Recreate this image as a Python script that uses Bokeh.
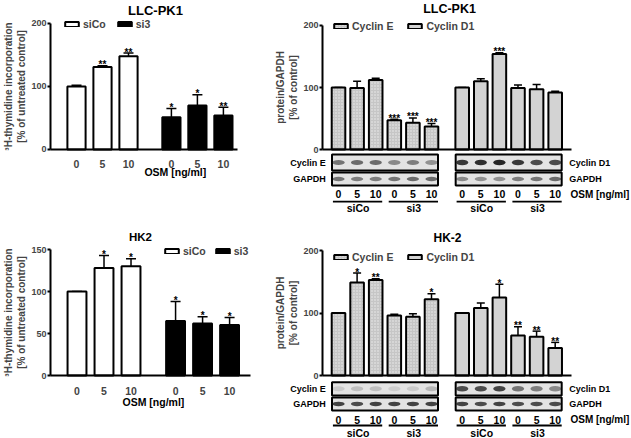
import numpy as np
from bokeh.plotting import figure
from bokeh.models import (ColumnDataSource, Range1d, FixedTicker, Whisker, TeeHead,
                          Legend, LegendItem, Label)
from bokeh.layouts import column, row
from bokeh.core.properties import value
from bokeh.embed import file_html
from bokeh.resources import INLINE

FONT = "Liberation Sans"

# ---------------- data ----------------
doses = ["0", "5", "10"]
groups = ["siCo", "si3"]
osm_label = "OSM [ng/ml]"

# 3H-thymidine incorporation, LLC-PK1
llc_thy_siCo = [100, 131, 148]
llc_thy_siCo_err = [2, 2, 5]
llc_thy_siCo_sig = ["", "**", "**"]
llc_thy_si3 = [51, 70, 54]
llc_thy_si3_err = [14, 17, 13]
llc_thy_si3_sig = ["*", "*", "**"]

# 3H-thymidine incorporation, HK2
hk2_thy_siCo = [100, 128, 130]
hk2_thy_siCo_err = [0, 15, 9]
hk2_thy_siCo_sig = ["", "*", "*"]
hk2_thy_si3 = [65, 62, 60]
hk2_thy_si3_err = [23, 8, 9]
hk2_thy_si3_sig = ["*", "*", "*"]

# protein/GAPDH, LLC-PK1 (siCo 0,5,10 then si3 0,5,10)
llc_cycE = [100, 99, 112, 47, 43, 37]
llc_cycE_err = [0, 11, 3, 2, 8, 5]
llc_cycE_sig = ["", "", "", "***", "***", "***"]
llc_cycD1 = [100, 110, 154, 99, 97, 92]
llc_cycD1_err = [0, 4, 2, 5, 8, 2]
llc_cycD1_sig = ["", "", "***", "", "", ""]

# protein/GAPDH, HK-2
hk_cycE = [100, 149, 153, 96, 94, 122]
hk_cycE_err = [0, 15, 2, 2, 5, 9]
hk_cycE_sig = ["", "*", "**", "", "", "*"]
hk_cycD1 = [100, 108, 125, 64, 62, 44]
hk_cycD1_err = [0, 8, 21, 14, 9, 9]
hk_cycD1_sig = ["", "", "*", "**", "**", "**"]

# western blot band darkness (0..1)
llc_band_cycE = [0.55, 0.6, 0.6, 0.45, 0.5, 0.4]
llc_band_gapdhE = [0.55, 0.5, 0.5, 0.55, 0.6, 0.6]
llc_band_cycD1 = [0.85, 0.9, 0.95, 0.85, 0.75, 0.75]
llc_band_gapdhD1 = [0.45, 0.4, 0.4, 0.5, 0.55, 0.6]
hk_band_cycE = [0.12, 0.18, 0.18, 0.1, 0.12, 0.22]
hk_band_gapdhE = [0.8, 0.75, 0.8, 0.8, 0.8, 0.8]
hk_band_cycD1 = [0.75, 0.75, 0.8, 0.55, 0.5, 0.45]
hk_band_gapdhD1 = [0.8, 0.75, 0.8, 0.75, 0.75, 0.75]


def txt(size="10px"):
    return dict(text_font=value(FONT), text_font_style="bold",
                text_font_size=size, text_color="black")


def base_fig(w, h, xr, yr):
    p = figure(width=w, height=h, x_range=Range1d(*xr), y_range=Range1d(*yr),
               output_backend="svg", toolbar_location=None,
               min_border_left=0, min_border_right=0, min_border_top=0,
               min_border_bottom=0)
    p.outline_line_color = None
    p.xgrid.visible = False
    p.ygrid.visible = False
    return p


def style_yaxis(p, ticks, label, xloc):
    ax = p.yaxis[0]
    ax.fixed_location = xloc
    ax.ticker = FixedTicker(ticks=ticks)
    ax.bounds = (0, ticks[-1])
    ax.minor_tick_line_color = None
    ax.major_tick_in = 0
    ax.major_tick_out = 3
    ax.major_tick_line_width = 2
    ax.axis_line_width = 2
    ax.major_label_standoff = 1
    ax.major_label_text_font = FONT
    ax.major_label_text_font_style = "bold"
    ax.major_label_text_font_size = "9px"
    ax.axis_label = label
    ax.axis_label_standoff = 1
    ax.axis_label_text_font = FONT
    ax.axis_label_text_font_style = "bold"
    ax.axis_label_text_font_size = "10px"


def style_xaxis(p, bounds, ticks=None, labels=None):
    ax = p.xaxis[0]
    ax.fixed_location = 0
    ax.bounds = bounds
    ax.axis_line_width = 2
    ax.major_tick_line_color = None
    ax.minor_tick_line_color = None
    if ticks is None:
        ax.major_label_text_color = None
    else:
        ax.ticker = FixedTicker(ticks=ticks)
        ax.major_label_overrides = {float(x): d for x, d in zip(ticks, labels)}
        ax.major_label_standoff = 5
        ax.major_label_text_font = FONT
        ax.major_label_text_font_style = "bold"
        ax.major_label_text_font_size = "10.5px"


def add_bars(p, xs, vals, errs, sigs, width, cap, **style):
    src = ColumnDataSource(dict(x=list(xs), top=vals,
                                upper=list(np.add(vals, errs)), sig=sigs))
    r = p.vbar(x="x", top="top", width=width, source=src, line_color="black",
               line_width=2, **style)
    p.add_layout(Whisker(source=src, base="x", lower="top", upper="upper",
                         line_width=1.5, line_color="black", lower_head=None,
                         upper_head=TeeHead(size=cap, line_width=1.5,
                                            line_color="black")))
    p.text(x="x", y="upper", text="sig", source=src, text_align="center",
           text_baseline="alphabetic", y_offset=-1, **txt("10px"))
    return r


def legend(p, items, loc, spacing):
    lg = Legend(items=[LegendItem(label=l, renderers=[r]) for l, r in items],
                orientation="horizontal", location=loc, padding=0, margin=0,
                spacing=spacing, glyph_width=17, glyph_height=6,
                label_standoff=3, label_height=10, border_line_color=None,
                background_fill_alpha=0, label_text_font=FONT,
                label_text_font_style="bold", label_text_font_size="10.5px")
    p.add_layout(lg)


def label(p, x, y, text, size="10px", align="center"):
    p.add_layout(Label(x=x, y=y, text=text, text_align=align,
                       text_baseline="middle", text_font=FONT,
                       text_font_style="bold", text_font_size=size,
                       text_color="black"))


GAP = 3.65


def thymidine_panel(title, co, co_err, co_sig, si, si_err, si_sig, yticks, L):
    p = base_fig(265, L["h"], L["xr"], L["yr"])
    x_co = np.arange(3.0)
    x_si = GAP + np.arange(3.0)
    r_co = add_bars(p, x_co, co, co_err, co_sig, 0.7, 10, fill_color="white")
    r_si = add_bars(p, x_si, si, si_err, si_sig, 0.7, 10, fill_color="black")
    style_yaxis(p, yticks, "\u00b3H-thymidine incorporation\n[% of untreated control]",
                L["axis"][0])
    style_xaxis(p, L["axis"], list(x_co) + list(x_si), doses * 2)
    label(p, L["osm"][0], L["osm"][1], osm_label, size="10.5px")
    label(p, L["title"][0], L["title"][1], title, size=L["tsize"])
    legend(p, [(groups[0], r_co), (groups[1], r_si)], L["leg"], L["leg_sp"])
    return p


D_OFF = 6.65
R_AXIS = (-0.86, 12.53)


def cyclin_panel(title, e, e_err, e_sig, d, d_err, d_sig, bands, L):
    p = base_fig(366, L["h"], (-3.925, 15.753), L["yr"])
    xE = np.arange(6.0)
    xD = D_OFF + np.arange(6.0)
    rE = add_bars(p, xE, e, e_err, e_sig, 0.73, 8, fill_color="#c6c6c6",
                  hatch_pattern="dot", hatch_color="#ececec", hatch_scale=3)
    rD = add_bars(p, xD, d, d_err, d_sig, 0.73, 8, fill_color="#d3d3d3")
    style_yaxis(p, [0, 100, 200], "protein/GAPDH\n[% of control]", R_AXIS[0])
    style_xaxis(p, R_AXIS)
    # blots
    (yA, hA), (yB, hB) = L["rows"]
    cx = [xE.mean(), xD.mean()]
    p.rect(x=cx * 2, y=[yA, yA, yB, yB], width=5.7,
           height=[hA, hA, hB, hB], fill_color="#e3e3e3", line_color="black",
           line_width=2)
    bE, gE, bD, gD = bands
    for xs, yy, dark, hh in ((xE, yA, bE, 5), (xE, yB, gE, 4.5),
                             (xD, yA, bD, 5.5), (xD, yB, gD, 4.5)):
        p.ellipse(x=list(xs), y=[yy] * 6, width=0.66, height=hh,
                  height_units="screen", fill_color="#1a1a1a",
                  fill_alpha=dark, line_color=None)
    # dose numbers, underlines, group labels
    allx = list(xE) + list(xD)
    p.text(x=allx, y=[L["num"]] * 12, text=doses * 4, text_align="center",
           text_baseline="middle", **txt("10.5px"))
    starts = [xE[0], xE[3], xD[0], xD[3]]
    p.segment(x0=[s - 0.3 for s in starts], y0=[L["ul"]] * 4,
              x1=[s + 2.35 for s in starts], y1=[L["ul"]] * 4,
              line_width=1.8, line_color="black")
    p.text(x=[s + 1.05 for s in starts], y=[L["grp"]] * 4, text=groups * 2,
           text_align="center", text_baseline="middle", **txt("10.5px"))
    p.text(x=[12.47], y=[L["num"]], text=[osm_label], text_align="left",
           text_baseline="middle", **txt("10px"))
    p.text(x=[12.4, 12.4], y=[yA, yB], text=["Cyclin D1", "GAPDH"],
           text_align="left", text_baseline="middle", **txt("9px"))
    label(p, -0.68, yA, "Cyclin E", size="9px", align="right")
    label(p, -0.68, yB, "GAPDH", size="9px", align="right")
    label(p, L["title"][0], L["title"][1], title, size=L["tsize"])
    legend(p, [("Cyclin E", rE), ("Cyclin D1", rD)], L["leg"], 13)
    return p


p1 = thymidine_panel("LLC-PK1", llc_thy_siCo, llc_thy_siCo_err, llc_thy_siCo_sig,
                     llc_thy_si3, llc_thy_si3_err, llc_thy_si3_sig, [0, 100, 200],
                     dict(h=214, xr=(-2.923, 7.269), yr=(-103.2, 236.5),
                          axis=(-1.0, 6.19), osm=(3.8, -36.5), title=(3.04, 221),
                          tsize="13px", leg=(63, 184), leg_sp=10))
p2 = cyclin_panel("LLC-PK1", llc_cycE, llc_cycE_err, llc_cycE_sig, llc_cycD1,
                  llc_cycD1_err, llc_cycD1_sig,
                  (llc_band_cycE, llc_band_gapdhE, llc_band_cycD1, llc_band_gapdhD1),
                  dict(h=214, yr=(-104.8, 240.3), rows=((-21, 26), (-47.5, 21)),
                       num=-72.5, ul=-84, grp=-95, title=(5.97, 226.6),
                       tsize="12.5px", leg=(67, 182)))
p3 = thymidine_panel("HK2", hk2_thy_siCo, hk2_thy_siCo_err, hk2_thy_siCo_sig,
                     hk2_thy_si3, hk2_thy_si3_err, hk2_thy_si3_sig, [0, 50, 100, 150],
                     dict(h=224, xr=(-2.833, 6.98), yr=(-75, 191.7),
                          axis=(-0.98, 6.43), osm=(2.83, -31), title=(2.35, 165.5),
                          tsize="11.5px", leg=(163, 181), leg_sp=8))
p4 = cyclin_panel("HK-2", hk_cycE, hk_cycE_err, hk_cycE_sig, hk_cycD1,
                  hk_cycD1_err, hk_cycD1_sig,
                  (hk_band_cycE, hk_band_gapdhE, hk_band_cycD1, hk_band_gapdhD1),
                  dict(h=224, yr=(-100.8, 257.6), rows=((-21.3, 21.3), (-45.5, 21)),
                       num=-70.4, ul=-80, grp=-92, title=(5.86, 220),
                       tsize="12px", leg=(67, 175)))

layout = column(row(p1, p2), row(p3, p4))
open("out.html", "w").write(file_html(layout, INLINE))
